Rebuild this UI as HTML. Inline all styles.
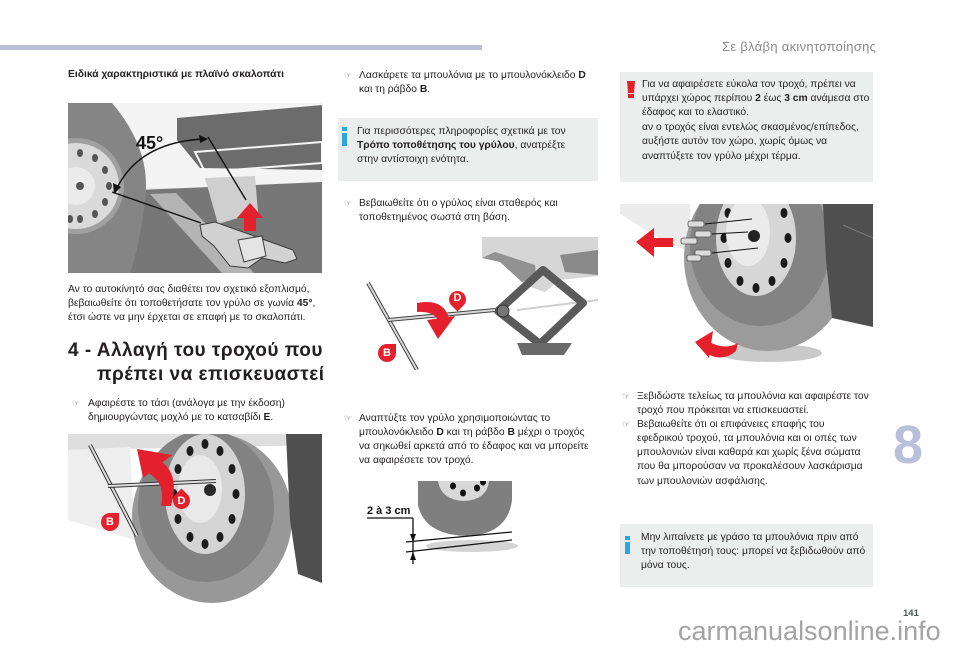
<!DOCTYPE html>
<html><head><meta charset="utf-8">
<style>
html,body{margin:0;padding:0;background:#fff;}
body{width:960px;height:649px;position:relative;overflow:hidden;font-family:"Liberation Sans",Arial,sans-serif;color:#231f20;}
.t{position:absolute;white-space:nowrap;font-size:10.3px;line-height:14px;}
.h{position:absolute;white-space:nowrap;font-size:19px;line-height:24px;font-weight:bold;letter-spacing:0.5px;}
.bul{position:absolute;font-family:"DejaVu Sans",sans-serif;font-size:9px;color:#6a6a6a;line-height:14px;}
.box{position:absolute;background:#eceeee;}
svg{position:absolute;left:0;top:0;}
</style></head><body>

<div class="box" style="left:338px;top:118px;width:260px;height:63px;"></div>
<div class="box" style="left:620px;top:72px;width:253px;height:110px;"></div>
<div class="box" style="left:620px;top:524px;width:253px;height:63px;"></div>

<svg width="960" height="649" viewBox="0 0 960 649">
<defs>
 <clipPath id="c1"><rect x="68" y="103" width="254" height="170"/></clipPath>
 <clipPath id="c4"><rect x="68" y="434" width="254" height="175"/></clipPath>
 <clipPath id="c5"><rect x="620" y="204" width="253" height="160"/></clipPath>
 <clipPath id="c2"><rect x="365" y="237" width="233" height="133"/></clipPath>
 <clipPath id="c3"><rect x="365" y="481" width="155" height="85"/></clipPath>
</defs>

<rect x="0" y="45" width="482" height="5" fill="#b9c1d9"/>

<!-- IMAGE 1 -->
<g clip-path="url(#c1)">
 <rect x="68" y="103" width="254" height="170" fill="#e6e6e6"/>
 <rect x="68" y="103" width="254" height="85" fill="#f4f4f4"/>
 <polygon points="177,118 322,105 322,170 200,168 177,140" fill="#6c6c6c"/>
 <polygon points="195,152 322,142 322,163 205,172" fill="none" stroke="#f5f5f5" stroke-width="2"/>
 <polygon points="140,190 322,182 322,273 126,273" fill="#777777"/>
 <polygon points="150,194 176,193 254,273 222,273" fill="#b4b4b4"/>
 <polygon points="205,178 255,176 258,212 218,224" fill="#cfcfcf"/>
 <path d="M68,103 L112,103 Q152,150 145,200 Q140,245 130,273 L68,273 Z" fill="#858585"/>
 <circle cx="76" cy="186" r="48" fill="#a0a0a0"/>
 <circle cx="76" cy="186" r="43" fill="#dadada"/>
 <circle cx="76" cy="186" r="19" fill="#ebebeb"/>
 <g fill="#555">
  <ellipse cx="109" cy="186" rx="3" ry="4"/><ellipse cx="105" cy="202" rx="3" ry="4"/>
  <ellipse cx="95" cy="214" rx="3" ry="4"/><ellipse cx="80" cy="219" rx="3" ry="4"/>
  <ellipse cx="105" cy="170" rx="3" ry="4"/><ellipse cx="95" cy="158" rx="3" ry="4"/>
  <ellipse cx="80" cy="153" rx="3" ry="4"/><ellipse cx="70" cy="219" rx="3" ry="4"/>
  <circle cx="80" cy="186" r="4"/>
 </g>
 <polygon points="200,225 215,222 265,240 293,250 297,259 285,263 262,258 248,268 230,266 214,246 202,236" fill="#d2d2d2" stroke="#3a3a3a" stroke-width="1"/>
 <polygon points="238,240 262,236 266,256 244,262" fill="#e4e4e4" stroke="#3a3a3a" stroke-width="1"/>
 <line x1="112" y1="192" x2="201" y2="223" stroke="#111" stroke-width="1.4"/>
 <line x1="208" y1="137" x2="246" y2="200" stroke="#111" stroke-width="1.4"/>
 <path d="M117,188 Q140,142 204,139" fill="none" stroke="#111" stroke-width="1.4"/>
 <polygon points="114,194 113,183 121,187" fill="#111"/>
 <polygon points="208,139 199,135 200,143" fill="#111"/>
 <polygon points="250,203 263,218 256,218 256,231 244,231 244,218 237,218" fill="#e3202c"/>
 <text x="136" y="149" font-family="Liberation Sans, sans-serif" font-weight="bold" font-size="18" fill="#111">45°</text>
</g>

<!-- IMAGE 4 -->
<g clip-path="url(#c4)">
 <rect x="68" y="434" width="254" height="175" fill="#ffffff"/>
 <polygon points="68,434 322,434 322,445 68,450" fill="#dedede"/>
 <polygon points="68,450 130,447 135,540 68,520" fill="#eeeeee"/>
 <ellipse cx="212" cy="518" rx="80" ry="85" fill="#989898"/>
 <ellipse cx="206" cy="506" rx="68" ry="76" fill="#828282"/>
 <ellipse cx="205" cy="494" rx="40" ry="60" fill="#d4d4d4"/>
 <g fill="#1c1c1c">
  <ellipse cx="236" cy="494" rx="3.5" ry="5"/><ellipse cx="232" cy="519" rx="3.5" ry="5"/>
  <ellipse cx="220" cy="537" rx="3.5" ry="5"/><ellipse cx="205" cy="544" rx="3.5" ry="5"/>
  <ellipse cx="190" cy="537" rx="3.5" ry="5"/><ellipse cx="178" cy="519" rx="3.5" ry="5"/>
  <ellipse cx="174" cy="494" rx="3.5" ry="5"/><ellipse cx="178" cy="469" rx="3.5" ry="5"/>
  <ellipse cx="190" cy="451" rx="3.5" ry="5"/><ellipse cx="205" cy="444" rx="3.5" ry="5"/>
  <ellipse cx="220" cy="451" rx="3.5" ry="5"/><ellipse cx="232" cy="469" rx="3.5" ry="5"/>
 </g>
 <ellipse cx="200" cy="489" rx="22" ry="34" fill="#e9e9e9"/>
 <circle cx="210" cy="490" r="6" fill="#2a2a2a"/>
 <polygon points="286,434 322,434 322,583 298,574 290,520" fill="#4f4f4f"/>
 <line x1="90" y1="445" x2="137" y2="536" stroke="#333" stroke-width="4"/>
 <line x1="90" y1="445" x2="137" y2="536" stroke="#dddddd" stroke-width="2"/>
 <line x1="108" y1="486" x2="216" y2="481" stroke="#333" stroke-width="4"/>
 <line x1="108" y1="486" x2="216" y2="481" stroke="#dddddd" stroke-width="2"/>
 <path d="M156,459 Q181,470 171,506 L161,506 Q166,481 146,472 Z" fill="#e3202c"/>
 <polygon points="137,449 172,455 143,478" fill="#e3202c"/>
</g>

<!-- IMAGE 2 -->
<g clip-path="url(#c2)">
 <polygon points="482,237 598,237 598,276 560,280 545,292 525,285 500,262 482,258" fill="#d6d6d6"/>
 <polygon points="482,258 500,262 522,282 536,276 535,265 495,252" fill="#929292"/>
 <polygon points="560,255 598,250 598,275 565,272" fill="#8a8a8a"/>
 <line x1="517" y1="310" x2="598" y2="300" stroke="#cfcfcf" stroke-width="2"/>
 <polygon points="543,270 583,303 540,344 498,311" fill="none" stroke="#5a5a5a" stroke-width="8" stroke-linejoin="round"/>
 <polygon points="517,343 572,343 564,355 522,355" fill="#6a6a6a"/>
 <circle cx="503" cy="311" r="6" fill="#777" stroke="#333" stroke-width="1"/>
 <line x1="368" y1="283" x2="417" y2="370" stroke="#444" stroke-width="4"/>
 <line x1="368" y1="283" x2="417" y2="370" stroke="#d8d8d8" stroke-width="2"/>
 <line x1="388" y1="320" x2="495" y2="310" stroke="#444" stroke-width="4"/>
 <line x1="388" y1="320" x2="495" y2="310" stroke="#d8d8d8" stroke-width="2"/>
 <path d="M417,303 Q443,298 449,318 L438,320 Q433,311 417,312 Z" fill="#e3202c"/>
 <polygon points="427,320 455,316 438,339" fill="#e3202c"/>
</g>

<!-- IMAGE 3 -->
<g clip-path="url(#c3)">
 <ellipse cx="472" cy="546" rx="46" ry="6" fill="#d4d4d4"/>
 <path d="M418,481 L512,481 L512,500 Q508,533 470,536 Q425,536 418,505 Z" fill="#7f7f7f"/>
 <path d="M438,481 L489,481 Q487,500 464,501 Q441,500 438,481 Z" fill="#d8d8d8"/>
 <g fill="#111"><ellipse cx="453" cy="486" rx="3" ry="3.5"/><ellipse cx="463" cy="493" rx="3" ry="3.5"/><ellipse cx="477" cy="488" rx="3" ry="3.5"/><ellipse cx="483" cy="482" rx="3" ry="3.5"/></g>
 <line x1="367" y1="518" x2="413" y2="518" stroke="#111" stroke-width="1.3"/>
 <line x1="413" y1="518" x2="413" y2="564" stroke="#111" stroke-width="1.3"/>
 <polygon points="413,542 410,534 416,534" fill="#111"/>
 <polygon points="413,552 410,560 416,560" fill="#111"/>
 <line x1="406" y1="542" x2="512" y2="532" stroke="#111" stroke-width="1.2"/>
 <line x1="406" y1="552" x2="512" y2="540" stroke="#111" stroke-width="1.2"/>
 <text x="367" y="514" font-family="Liberation Sans, sans-serif" font-weight="bold" font-size="11" fill="#111">2 à 3 cm</text>
</g>

<!-- IMAGE 5 -->
<g clip-path="url(#c5)">
 <rect x="620" y="204" width="253" height="160" fill="#ffffff"/>
 <polygon points="620,204 690,204 690,252 662,240 620,214" fill="#ececec"/>
 <ellipse cx="770" cy="353" rx="52" ry="9" fill="#c9c9c9"/>
 <ellipse cx="768" cy="258" rx="84" ry="93" fill="#9b9b9b"/>
 <ellipse cx="760" cy="246" rx="70" ry="80" fill="#838383"/>
 <ellipse cx="756" cy="238" rx="40" ry="58" fill="#d6d6d6"/>
 <g fill="#1a1a1a">
  <ellipse cx="788" cy="238" rx="3.5" ry="5"/><ellipse cx="784" cy="263" rx="3.5" ry="5"/>
  <ellipse cx="772" cy="281" rx="3.5" ry="5"/><ellipse cx="756" cy="288" rx="3.5" ry="5"/>
  <ellipse cx="740" cy="281" rx="3.5" ry="5"/><ellipse cx="728" cy="263" rx="3.5" ry="5"/>
  <ellipse cx="724" cy="238" rx="3.5" ry="5"/><ellipse cx="728" cy="213" rx="3.5" ry="5"/>
  <ellipse cx="784" cy="213" rx="3.5" ry="5"/>
 </g>
 <ellipse cx="748" cy="232" rx="22" ry="34" fill="#ebebeb"/>
 <circle cx="754" cy="236" r="6" fill="#222"/>
 <polygon points="823,204 873,204 873,327 832,318 826,260" fill="#4f4f4f"/>
 <line x1="843" y1="225" x2="873" y2="238" stroke="#7a7a7a" stroke-width="1"/>
 <g stroke="#111" stroke-width="1">
  <line x1="705" y1="224" x2="752" y2="219"/><line x1="712" y1="234" x2="748" y2="232"/>
  <line x1="712" y1="253" x2="758" y2="248"/>
 </g>
 <g fill="#dcdcdc" stroke="#555" stroke-width="0.8">
  <rect x="688" y="221" width="16" height="6" rx="2"/><rect x="695" y="231" width="16" height="6" rx="2"/>
  <rect x="681" y="238" width="16" height="6" rx="2"/><rect x="695" y="250" width="16" height="6" rx="2"/>
  <rect x="687" y="255" width="14" height="6" rx="2"/>
 </g>
 <polygon points="636,242 654,228 654,238 673,238 673,247 654,247 654,257" fill="#e5202a"/>
 <polygon points="695,342 713,331 709,358" fill="#e5202a"/>
 <path d="M708,341 Q724,351 738,343 L736,351 Q722,363 706,353 Z" fill="#e5202a"/>
</g>

<polygon points="627,81 635,81 634,93 628,93" fill="#e3202c"/>
<rect x="628" y="94" width="6" height="4" fill="#e3202c"/>
<rect x="342" y="127" width="5" height="4" fill="#2ba6de"/>
<rect x="342" y="133" width="5" height="13" fill="#2ba6de"/>
<rect x="625" y="536" width="5" height="4" fill="#2ba6de"/>
<rect x="625" y="542" width="5" height="12" fill="#2ba6de"/>
</svg>

<div style="position:absolute;left:101px;top:513px;width:18px;height:18px;background:#e3202c;border-radius:50% 0 50% 50%;"></div>
<div style="position:absolute;left:101px;top:513px;width:18px;height:18px;color:#fff;font-weight:bold;font-size:11px;line-height:18px;text-align:center;">B</div>
<div style="position:absolute;left:173px;top:492px;width:17px;height:17px;background:#e3202c;border-radius:0 50% 50% 50%;transform:rotate(45deg);"></div>
<div style="position:absolute;left:173px;top:493px;width:17px;height:17px;color:#fff;font-weight:bold;font-size:11px;line-height:17px;text-align:center;">D</div>
<div style="position:absolute;left:449px;top:291px;width:17px;height:17px;background:#e3202c;border-radius:50% 50% 0 50%;transform:rotate(45deg);"></div>
<div style="position:absolute;left:449px;top:290px;width:17px;height:17px;color:#fff;font-weight:bold;font-size:11px;line-height:17px;text-align:center;">D</div>
<div style="position:absolute;left:378px;top:344px;width:18px;height:18px;background:#e3202c;border-radius:50% 0 50% 50%;"></div>
<div style="position:absolute;left:378px;top:344px;width:18px;height:18px;color:#fff;font-weight:bold;font-size:11px;line-height:18px;text-align:center;">B</div>

<div class="t" style="left:722px;top:40px;font-size:13px;letter-spacing:0.3px;color:#8a8a8a;">Σε βλάβη ακινητοποίησης</div>

<div class="t" style="left:68px;top:67.5px;font-weight:bold;">Ειδικά χαρακτηριστικά με πλαϊνό σκαλοπάτι</div>
<div class="t" style="left:68px;top:282.5px;">Αν το αυτοκίνητό σας διαθέτει τον σχετικό εξοπλισμό,</div>
<div class="t" style="left:68px;top:296.5px;">βεβαιωθείτε ότι τοποθετήσατε τον γρύλο σε γωνία <b>45°</b>,</div>
<div class="t" style="left:68px;top:310.5px;">έτσι ώστε να μην έρχεται σε επαφή με το σκαλοπάτι.</div>
<div class="h" style="left:68px;top:339px;">4 - Αλλαγή του τροχού που</div>
<div class="h" style="left:97px;top:363px;">πρέπει να επισκευαστεί</div>
<div class="bul" style="left:72px;top:396.5px;">☞</div>
<div class="t" style="left:88px;top:396.5px;">Αφαιρέστε το τάσι (ανάλογα με την έκδοση)</div>
<div class="t" style="left:88px;top:410.5px;">δημιουργώντας μοχλό με το κατσαβίδι <b>E</b>.</div>

<div class="bul" style="left:344px;top:68.5px;">☞</div>
<div class="t" style="left:359px;top:68.5px;">Λασκάρετε τα μπουλόνια με το μπουλονόκλειδο <b>D</b></div>
<div class="t" style="left:359px;top:82.5px;">και τη ράβδο <b>B</b>.</div>
<div class="t" style="left:357px;top:124.5px;">Για περισσότερες πληροφορίες σχετικά με τον</div>
<div class="t" style="left:357px;top:138.5px;"><b>Τρόπο τοποθέτησης του γρύλου</b>, ανατρέξτε</div>
<div class="t" style="left:357px;top:152.5px;">στην αντίστοιχη ενότητα.</div>
<div class="bul" style="left:344px;top:196.5px;">☞</div>
<div class="t" style="left:359px;top:196.5px;">Βεβαιωθείτε ότι ο γρύλος είναι σταθερός και</div>
<div class="t" style="left:359px;top:210.5px;">τοποθετημένος σωστά στη βάση.</div>
<div class="bul" style="left:344px;top:411.5px;">☞</div>
<div class="t" style="left:359px;top:411.5px;">Αναπτύξτε τον γρύλο χρησιμοποιώντας το</div>
<div class="t" style="left:359px;top:425.5px;">μπουλονόκλειδο <b>D</b> και τη ράβδο <b>B</b> μέχρι ο τροχός</div>
<div class="t" style="left:359px;top:439.5px;">να σηκωθεί αρκετά από το έδαφος και να μπορείτε</div>
<div class="t" style="left:359px;top:453.5px;">να αφαιρέσετε τον τροχό.</div>

<div class="t" style="left:642px;top:77.5px;">Για να αφαιρέσετε εύκολα τον τροχό, πρέπει να</div>
<div class="t" style="left:642px;top:91.5px;">υπάρχει χώρος περίπου <b>2</b> έως <b>3 cm</b> ανάμεσα στο</div>
<div class="t" style="left:642px;top:106px;">έδαφος και το ελαστικό.</div>
<div class="t" style="left:642px;top:120.5px;">αν ο τροχός είναι εντελώς σκασμένος/επίπεδος,</div>
<div class="t" style="left:642px;top:135px;">αυξήστε αυτόν τον χώρο, χωρίς όμως να</div>
<div class="t" style="left:642px;top:149.5px;">αναπτύξετε τον γρύλο μέχρι τέρμα.</div>

<div class="bul" style="left:622px;top:389.5px;">☞</div>
<div class="t" style="left:637px;top:389.5px;">Ξεβιδώστε τελείως τα μπουλόνια και αφαιρέστε τον</div>
<div class="t" style="left:637px;top:403.5px;">τροχό που πρόκειται να επισκευαστεί.</div>
<div class="bul" style="left:622px;top:417.5px;">☞</div>
<div class="t" style="left:637px;top:417.5px;">Βεβαιωθείτε ότι οι επιφάνειες επαφής του</div>
<div class="t" style="left:637px;top:431.5px;">εφεδρικού τροχού, τα μπουλόνια και οι οπές των</div>
<div class="t" style="left:637px;top:445.5px;">μπουλονιών είναι καθαρά και χωρίς ξένα σώματα</div>
<div class="t" style="left:637px;top:460px;">που θα μπορούσαν να προκαλέσουν λασκάρισμα</div>
<div class="t" style="left:637px;top:474.5px;">των μπουλονιών ασφάλισης.</div>

<div class="t" style="left:641px;top:530.5px;">Μην λιπαίνετε με γράσο τα μπουλόνια πριν από</div>
<div class="t" style="left:641px;top:544.5px;">την τοποθέτησή τους: μπορεί να ξεβιδωθούν από</div>
<div class="t" style="left:641px;top:559px;">μόνα τους.</div>

<div style="position:absolute;left:893px;top:418px;font-size:54px;line-height:54px;font-weight:bold;color:#b8c0da;">8</div>

<div class="t" style="left:903px;top:607px;font-size:9.5px;font-weight:bold;color:#4d5b5b;">141</div>

<div style="position:absolute;left:678px;top:616px;font-size:27px;line-height:30px;color:#a3a3a3;white-space:nowrap;">carmanualsonline.info</div>

</body></html>
